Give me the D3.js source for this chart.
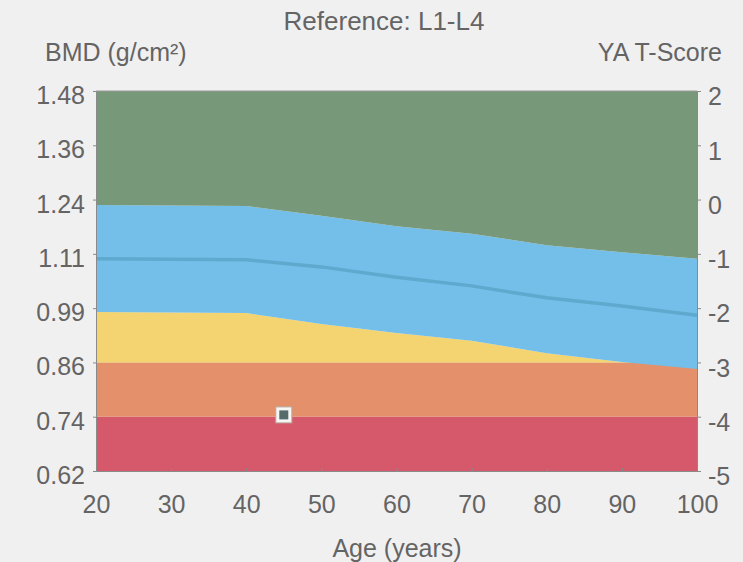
<!DOCTYPE html>
<html><head><meta charset="utf-8">
<script src="https://cdn.jsdelivr.net/npm/d3@7"></script>
<style>
html,body{margin:0;padding:0;background:#f1f0f1;}
svg{display:block;}
text{font-family:"Liberation Sans",Arial,sans-serif;fill:#646464;}
</style></head><body>
<svg id="c" width="743" height="562"></svg>
<script>
// ---- data ----
const ages = [20, 30, 40, 50, 60, 70, 80, 90, 100];
// band boundaries in YA T-score units
const greenLower = [-0.10, -0.11, -0.12, -0.30, -0.49, -0.63, -0.84, -0.97, -1.09];
const meanLine   = [-1.09, -1.10, -1.11, -1.24, -1.43, -1.59, -1.81, -1.96, -2.13];
const blueLower  = [-2.07, -2.08, -2.09, -2.29, -2.46, -2.60, -2.83, -2.99, -3.12];
const orangeTop = -3, redTop = -4;
const tTicks = [2, 1, 0, -1, -2, -3, -4, -5];
const bmdLabels = ["1.48", "1.36", "1.24", "1.11", "0.99", "0.86", "0.74", "0.62"];
const ageTicks = [20, 30, 40, 50, 60, 70, 80, 90, 100];
const patientAge = [45];
const patientBMD = [0.747];

const colors = {green:"#77997a", blue:"#73bfe9", yellow:"#f4d470", orange:"#e3906b", red:"#d5596b", mean:"#5fa9cf"};

const svg = d3.select("#c");
const L = 96, R = 697, T = 91, B = 471;
const x = d3.scaleLinear().domain([20, 100]).range([L, R]);
const yT = d3.scaleLinear().domain([-5, 2]).range([B, T]);
const yB = d3.scaleLinear().domain([0.62, 1.48]).range([B, T]);

const rows = ages.map((a, i) => ({a, g: greenLower[i], m: meanLine[i], b: blueLower[i]}));

// red and orange bands
svg.append("rect").attr("x", x(20)).attr("width", x(100) - x(20))
  .attr("y", yT(redTop)).attr("height", yT(-5) - yT(redTop)).attr("fill", colors.red);
svg.append("rect").attr("x", x(20)).attr("width", x(100) - x(20))
  .attr("y", yT(orangeTop)).attr("height", yT(redTop) - yT(orangeTop)).attr("fill", colors.orange);
// yellow
svg.append("path").attr("fill", colors.yellow)
  .attr("d", d3.area().x(d => x(d.a)).y0(yT(orangeTop)).y1(d => yT(Math.max(d.b, orangeTop)))(rows));
// blue
svg.append("path").attr("fill", colors.blue)
  .attr("d", d3.area().x(d => x(d.a)).y0(d => yT(d.b)).y1(d => yT(d.g))(rows));
// green
svg.append("path").attr("fill", colors.green)
  .attr("d", d3.area().x(d => x(d.a)).y0(d => yT(d.g)).y1(yT(2))(rows));
// mean line
svg.append("path").attr("fill", "none").attr("stroke", colors.mean).attr("stroke-width", 3.5)
  .attr("d", d3.line().x(d => x(d.a)).y(d => yT(d.m))(rows));

// axes
const axStyle = g => {
  g.selectAll("path").attr("stroke", "#8a8a8a").attr("stroke-width", 1);
  g.selectAll("line").attr("stroke", "#8a8a8a");
  g.selectAll("text").attr("fill", "#6a6a6a").style("font-size", "25px")
    .style("font-family", '"Liberation Sans",Arial,sans-serif');
};
svg.append("g").attr("transform", `translate(${L},0)`)
  .call(d3.axisLeft(yT).tickValues(tTicks).tickSize(3).tickPadding(8)
    .tickFormat((d, i) => bmdLabels[i]))
  .call(axStyle)
  .selectAll("text").attr("dy", "0.5em");
svg.append("g").attr("transform", `translate(${R},0)`)
  .call(d3.axisRight(yT).tickValues(tTicks).tickSize(4).tickPadding(7)
    .tickFormat(d => d3.format("d")(d).replace("−", "-")))
  .call(axStyle)
  .selectAll("text").attr("dy", "0.55em");
svg.append("g").attr("transform", `translate(0,${B})`)
  .call(d3.axisBottom(x).tickValues(ageTicks).tickSize(-3).tickPadding(24))
  .call(axStyle);
svg.append("line").attr("x1", L).attr("x2", R).attr("y1", T).attr("y2", T).attr("stroke", "#9a9a9a");

// patient marker
svg.append("rect").attr("x", x(patientAge[0]) - 8).attr("y", yB(patientBMD[0]) - 8)
  .attr("width", 16).attr("height", 16).attr("fill", "#f6f6f4").attr("stroke", "#b9a9a0").attr("stroke-width", 1);
svg.append("rect").attr("x", x(patientAge[0]) - 4.5).attr("y", yB(patientBMD[0]) - 4.5)
  .attr("width", 9).attr("height", 9).attr("fill", "#556a6a");

// titles
svg.append("text").attr("x", 384).attr("y", 30).attr("text-anchor", "middle")
  .style("font-size", "26px").text("Reference: L1-L4");
svg.append("text").attr("x", 45).attr("y", 61).style("font-size", "25px").text("BMD (g/cm²)");
svg.append("text").attr("x", 722).attr("y", 61).attr("text-anchor", "end").style("font-size", "25px").text("YA T-Score");
svg.append("text").attr("x", 397).attr("y", 557).attr("text-anchor", "middle").style("font-size", "25px").text("Age (years)");
</script>
</body></html>
